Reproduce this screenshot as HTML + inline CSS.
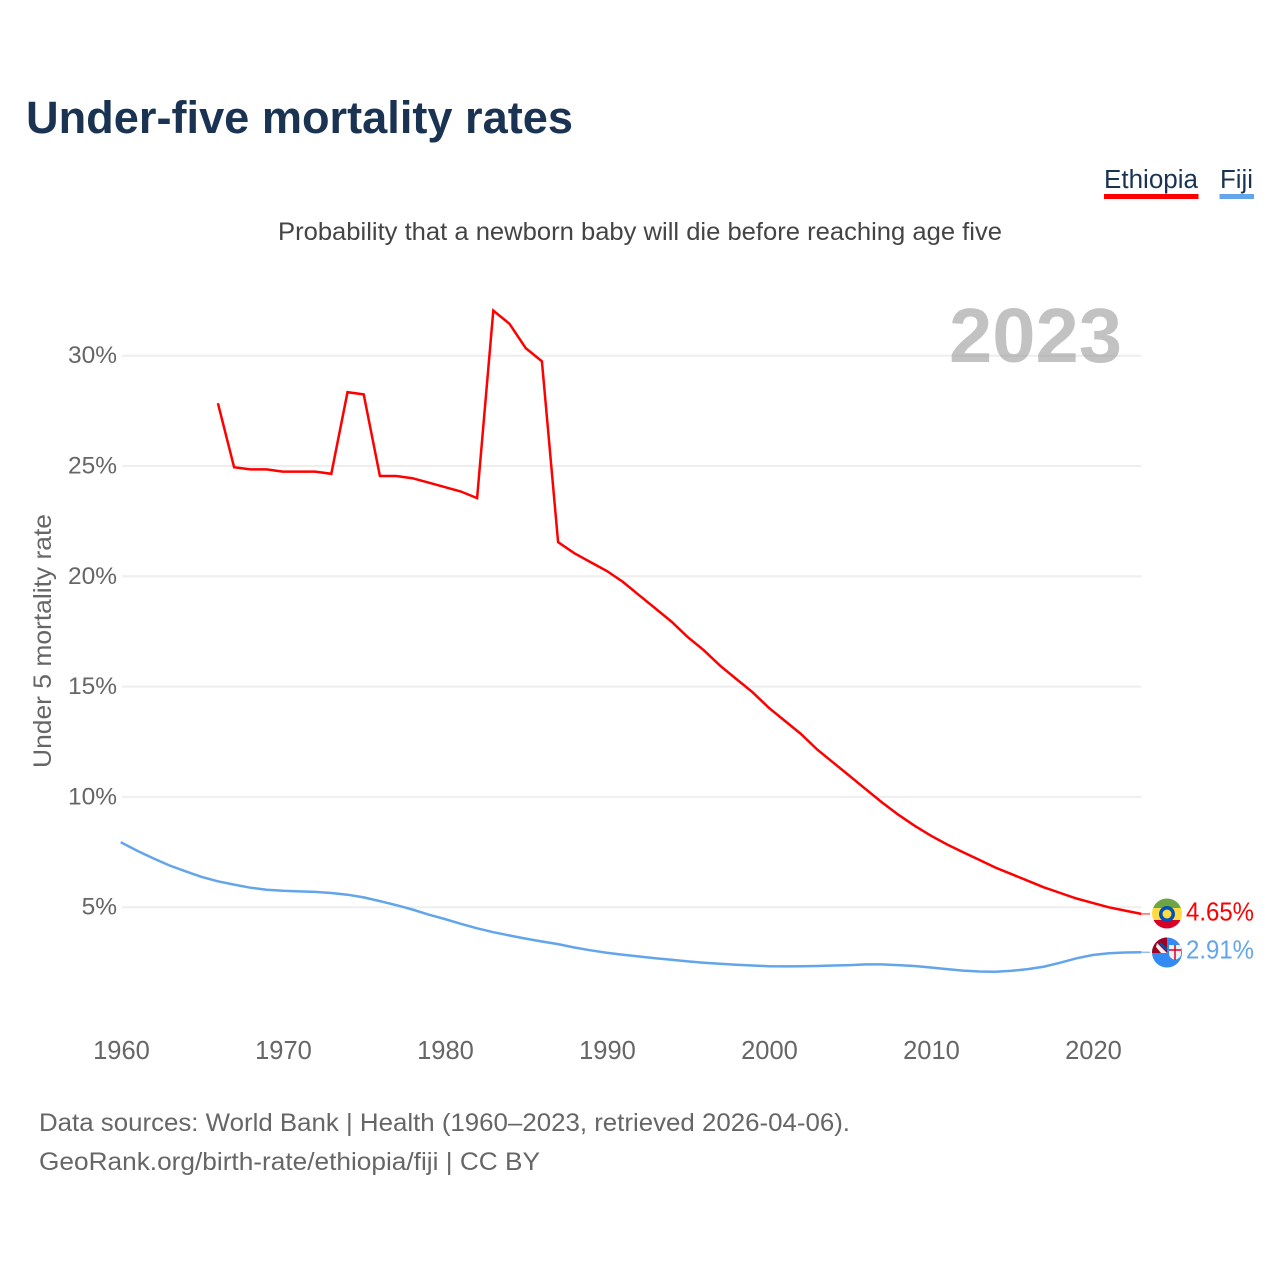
<!DOCTYPE html>
<html lang="en">
<head>
<meta charset="utf-8">
<title>Under-five mortality rates</title>
<style>
html,body{margin:0;padding:0;background:#fff;}
svg{display:block;}
text{font-family:"Liberation Sans",sans-serif;}
</style>
</head>
<body>
<svg id="chart" xmlns="http://www.w3.org/2000/svg" width="1280" height="1280" viewBox="0 0 1280 1280">
  <rect x="0" y="0" width="1280" height="1280" fill="#ffffff"/>
  <text x="26" y="133" font-size="45" font-weight="700" fill="#1a3352" textLength="547" lengthAdjust="spacingAndGlyphs">Under-five mortality rates</text>
  <text x="278" y="240" font-size="25" fill="#444444" textLength="724" lengthAdjust="spacingAndGlyphs">Probability that a newborn baby will die before reaching age five</text>

  <text x="1104" y="188" font-size="25.500" fill="#1a3352" textLength="94" lengthAdjust="spacingAndGlyphs">Ethiopia</text>
  <rect x="1104" y="194" width="94.500" height="5" fill="#ff0000"/>
  <text x="1220" y="188" font-size="25.500" fill="#1a3352" textLength="33" lengthAdjust="spacingAndGlyphs">Fiji</text>
  <rect x="1219.500" y="194" width="34.500" height="5" fill="#63a5ea"/>

  <g id="grid"></g>
  <g id="ytickgroup"></g>
  <g id="xtickgroup"></g>

  <text x="949" y="362" font-size="77" font-weight="700" fill="#999999" fill-opacity="0.6" textLength="173" lengthAdjust="spacingAndGlyphs">2023</text>
  <text transform="translate(51,768) rotate(-90)" x="0" y="0" font-size="25" fill="#666666" textLength="254" lengthAdjust="spacingAndGlyphs">Under 5 mortality rate</text>

  <g transform="translate(-1.3,-1)">
    <g id="series"></g>
    <line id="ethiopia-connector" stroke="#ff6666" stroke-width="1.500"/>
    <line id="fiji-connector" stroke="#8fc0f0" stroke-width="1.500"/>
  </g>

  <defs>
    <clipPath id="eth-clip"><circle cx="1167" cy="913.500" r="15"/></clipPath>
    <clipPath id="fiji-clip"><circle cx="1167" cy="952.500" r="15"/></clipPath>
  </defs>
  <g clip-path="url(#eth-clip)">
    <rect x="1152" y="898" width="30" height="10" fill="#6da544"/>
    <rect x="1152" y="908" width="30" height="12" fill="#ffda44"/>
    <rect x="1152" y="920" width="30" height="10" fill="#d80027"/>
    <circle cx="1167" cy="914" r="8" fill="#0052b4"/>
    <circle cx="1167" cy="914" r="4.500" fill="#ffda44"/>
  </g>
  <g clip-path="url(#fiji-clip)">
    <rect x="1152" y="937" width="30" height="31" fill="#338af3"/>
    <rect x="1152" y="937" width="15" height="16" fill="#a2001d"/>
    <path d="M1157 943 L1167 953 L1161 953 L1156 947 Z" fill="#f0f0f0"/>
    <path d="M1160 943 L1167 950" stroke="#0052b4" stroke-width="2"/>
    <path d="M1169 945 H1181 V954 Q1181 958 1175 960 Q1169 958 1169 954 Z" fill="#f0f0f0"/>
    <path d="M1175 945 V960 M1169 950 H1181" stroke="#d80027" stroke-width="1.500"/>
  </g>

  <text x="1186" y="920.500" font-size="25.500" fill="#ff0000" textLength="68" lengthAdjust="spacingAndGlyphs">4.65%</text>
  <text x="1186" y="958.500" font-size="25.500" fill="#63a5ea" textLength="68" lengthAdjust="spacingAndGlyphs">2.91%</text>

  <text x="39" y="1131" font-size="25" fill="#666666" textLength="811" lengthAdjust="spacingAndGlyphs">Data sources: World Bank | Health (1960–2023, retrieved 2026-04-06).</text>
  <text x="39" y="1170" font-size="25" fill="#666666" textLength="501" lengthAdjust="spacingAndGlyphs">GeoRank.org/birth-rate/ethiopia/fiji | CC BY</text>
</svg>
<script>
const fijiStartYear = 1960;
const ethiopiaStartYear = 1966;
const xTickYears = [1960, 1970, 1980, 1990, 2000, 2010, 2020];
const yTickValues = [5, 10, 15, 20, 25, 30];
const ethiopiaValues = [27.8, 24.9, 24.8, 24.8, 24.7, 24.7, 24.7, 24.6, 28.3, 28.2, 24.5, 24.5, 24.4, 24.2, 24.0, 23.8, 23.5, 32.0, 31.4, 30.3, 29.7, 21.5, 21.0, 20.6, 20.2, 19.7, 19.1, 18.5, 17.9, 17.2, 16.6, 15.9, 15.3, 14.7, 14.0, 13.4, 12.8, 12.1, 11.5, 10.9, 10.3, 9.7, 9.15, 8.65, 8.2, 7.8, 7.45, 7.1, 6.75, 6.45, 6.15, 5.85, 5.6, 5.35, 5.15, 4.95, 4.8, 4.65];
const fijiValues = [7.9, 7.52, 7.17, 6.85, 6.58, 6.33, 6.13, 5.98, 5.84, 5.75, 5.7, 5.67, 5.65, 5.6, 5.52, 5.4, 5.23, 5.05, 4.85, 4.62, 4.42, 4.2, 4.0, 3.82, 3.67, 3.53, 3.4, 3.28, 3.13, 3.0, 2.89, 2.8, 2.72, 2.64, 2.57, 2.5, 2.44, 2.39, 2.35, 2.31, 2.28, 2.27, 2.28, 2.29, 2.31, 2.33, 2.36, 2.36, 2.33, 2.29, 2.22, 2.15, 2.08, 2.04, 2.03, 2.07, 2.15, 2.26, 2.44, 2.64, 2.79, 2.87, 2.9, 2.91];

const NS = 'http://www.w3.org/2000/svg';
const xScale = function (year) { return 122 + (year - 1960) * 16.2; };
const yScale = function (value) { return 1017.5 - value * 22.06; };

const gridGroup = document.getElementById('grid');
const yTickGroup = document.getElementById('ytickgroup');
const xTickGroup = document.getElementById('xtickgroup');
const seriesGroup = document.getElementById('series');

yTickValues.forEach(function (value) {
  const line = document.createElementNS(NS, 'line');
  
  
  line.setAttribute('x1', 122);
  line.setAttribute('x2', 1141.5);
  line.setAttribute('y1', yScale(value));
  line.setAttribute('y2', yScale(value));
  line.setAttribute('stroke', '#eeeeee');
  line.setAttribute('stroke-width', 2);
  gridGroup.appendChild(line);

  const label = document.createElementNS(NS, 'text');
  
  
  label.setAttribute('x', 117);
  label.setAttribute('y', yScale(value) + 7.5);
  label.setAttribute('text-anchor', 'end');
  label.setAttribute('font-size', 24.5);
  label.setAttribute('fill', '#666666');
  label.textContent = value + '%';
  yTickGroup.appendChild(label);
});

xTickYears.forEach(function (year) {
  const label = document.createElementNS(NS, 'text');
  
  
  label.setAttribute('x', xScale(year) - 0.5);
  label.setAttribute('y', 1059);
  label.setAttribute('text-anchor', 'middle');
  label.setAttribute('font-size', 25.5);
  label.setAttribute('fill', '#666666');
  label.textContent = year;
  xTickGroup.appendChild(label);
});

const buildPoints = function (values, startYear) {
  return values.map(function (value, index) {
    return xScale(startYear + index).toFixed(1) + ',' + yScale(value).toFixed(1);
  }).join(' ');
};

const fijiLine = document.createElementNS(NS, 'polyline');


fijiLine.setAttribute('points', buildPoints(fijiValues, fijiStartYear));
fijiLine.setAttribute('fill', 'none');
fijiLine.setAttribute('stroke', '#63a5ea');
fijiLine.setAttribute('stroke-width', 2.5);
seriesGroup.appendChild(fijiLine);

const ethiopiaLine = document.createElementNS(NS, 'polyline');


ethiopiaLine.setAttribute('points', buildPoints(ethiopiaValues, ethiopiaStartYear));
ethiopiaLine.setAttribute('fill', 'none');
ethiopiaLine.setAttribute('stroke', '#ff0000');
ethiopiaLine.setAttribute('stroke-width', 2.5);
seriesGroup.appendChild(ethiopiaLine);

const setConnector = function (id, values) {
  const c = document.getElementById(id);
  const y = yScale(values[values.length - 1]);
  c.setAttribute('x1', xScale(2023));
  c.setAttribute('x2', 1151.3);
  c.setAttribute('y1', y);
  c.setAttribute('y2', y);
};
setConnector('ethiopia-connector', ethiopiaValues);
setConnector('fiji-connector', fijiValues);
</script>
</body>
</html>
